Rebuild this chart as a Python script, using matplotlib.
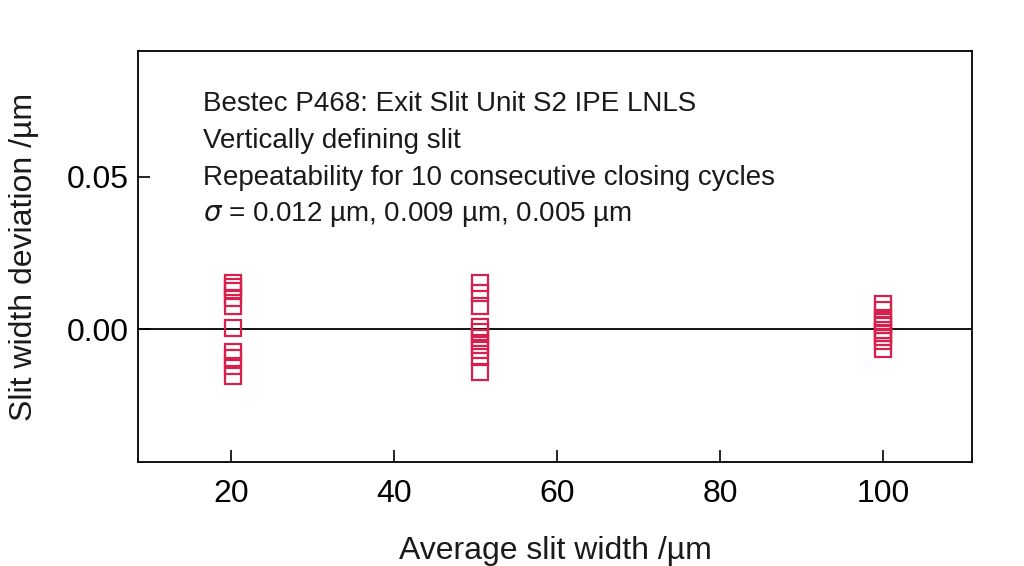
import matplotlib
matplotlib.use("Agg")
import matplotlib.pyplot as plt
import numpy as np

plt.rcParams['font.family'] = ['Liberation Sans', 'DejaVu Sans']
plt.rcParams['mathtext.fontset'] = 'dejavusans'

# Average slit width (x) for each group of 10 closing cycles
x_20 = 20.2
x_50 = 50.6
x_100 = 100.0

# Slit width deviation /um
dev_20 = [0.0151, 0.0138, 0.0125, 0.0102, 0.0076, 0.0005,
          -0.0074, -0.0095, -0.0122, -0.0153]
dev_50 = [0.0150, 0.0118, 0.0077, 0.0008, -0.0008, -0.0030,
          -0.0053, -0.0070, -0.0092, -0.0140]
dev_100 = [0.0084, 0.0062, 0.0036, 0.0023, 0.0013, -0.0003,
           -0.0013, -0.0026, -0.0039, -0.0064]

info_lines = [
    "Bestec P468: Exit Slit Unit S2 IPE LNLS",
    "Vertically defining slit",
    "Repeatability for 10 consecutive closing cycles",
    r"$\sigma$ = 0.012 µm, 0.009 µm, 0.005 µm",
]

red = '#d6204e'

fig = plt.figure(figsize=(10.24, 5.66), dpi=100)
ax = fig.add_axes([0.1348, 0.1837, 0.8145, 0.7262])

ax.axhline(0, color='black', lw=1.3, zorder=1)
for xv, dv in [(x_20, dev_20), (x_50, dev_50), (x_100, dev_100)]:
    ax.plot([xv] * len(dv), dv, linestyle='none', marker='s', ms=11.5,
            mfc='none', mec=red, mew=1.6, zorder=3)

ax.set_xlim(8.6, 110.9)
ax.set_ylim(-0.0437, 0.0914)
ax.set_xticks([20, 40, 60, 80, 100])
ax.set_yticks([0.0, 0.05])
ax.set_yticklabels(['0.00', '0.05'])
ax.tick_params(direction='in', length=8.5, width=1.2, labelsize=23, color='black')
ax.tick_params(axis='x', pad=12)
ax.tick_params(axis='y', pad=7)
for s in ax.spines.values():
    s.set_linewidth(1.3)

ax.set_xlabel("Average slit width /µm", fontsize=23, labelpad=20, color='#1a1a1a')
ax.set_ylabel("Slit width deviation /µm", fontsize=23, labelpad=20, color='#1a1a1a')

for i, line in enumerate(info_lines):
    ax.text(0.078, 0.87 - i * 0.0895, line, transform=ax.transAxes,
            fontsize=20, va='center', ha='left', color='#1a1a1a')

fig.savefig("out.png", dpi=100)
